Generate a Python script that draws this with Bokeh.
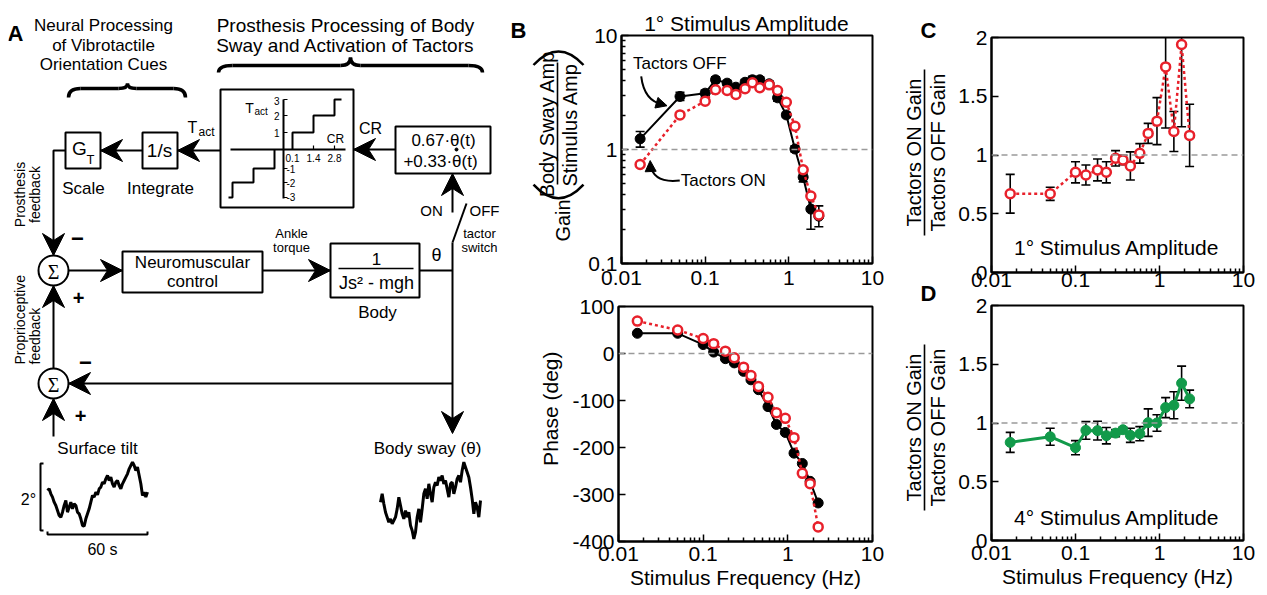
import math
from bokeh.plotting import figure
from bokeh.models import Range1d, FixedTicker, Span, Label, CustomJSTickFormatter, Arrow, NormalHead, Spacer
from bokeh.layouts import row, column
from bokeh.embed import file_html
from bokeh.resources import INLINE

FONT = "Liberation Sans"

# ---------------- data ----------------
freq = [0.0167, 0.05, 0.1, 0.133, 0.183, 0.233, 0.3, 0.367, 0.45, 0.583, 0.733, 0.933, 1.183, 1.483, 1.833, 2.283]

gain_off = [1.24, 2.92, 3.12, 4.09, 3.82, 3.52, 3.89, 4.09, 4.09, 3.77, 2.84, 2.01, 1.01, 0.572, 0.30, 0.26]
gain_off_lo = [1.05, 2.69, 2.88, 3.85, 3.62, 3.34, 3.68, 3.82, 3.85, 3.58, 2.65, 1.91, 0.95, 0.52, 0.20, 0.21]
gain_off_hi = [1.44, 3.18, 3.32, 4.35, 4.02, 3.70, 4.10, 4.38, 4.35, 3.97, 3.05, 2.12, 1.08, 0.62, 0.38, 0.32]
gain_on = [0.738, 2.01, 2.65, 3.34, 3.29, 3.04, 3.41, 3.85, 3.48, 3.69, 3.29, 2.60, 1.60, 0.664, 0.39, 0.267]

phase_off = [43, 43, 19, 3, -11, -20, -38, -56, -77, -113, -151, -168, -212, -234, -272, -318]
phase_on = [69, 50, 32, 21, 5, -9, -29, -47, -70, -93, -126, -138, -179, -255, -277, -369]

ratio_1deg = [0.67, 0.67, 0.853, 0.83, 0.873, 0.853, 0.972, 0.958, 0.907, 1.014, 1.184, 1.288, 1.75, 1.20, 1.94, 1.167]
ratio_1deg_err = [0.165, 0.056, 0.09, 0.085, 0.093, 0.09, 0.065, 0.04, 0.12, 0.083, 0.085, 0.20, 0.52, 0.17, 0.70, 0.265]
ratio_4deg = [0.835, 0.883, 0.79, 0.937, 0.935, 0.892, 0.914, 0.943, 0.895, 0.909, 1.003, 1.0, 1.131, 1.151, 1.339, 1.205]
ratio_4deg_err = [0.085, 0.072, 0.06, 0.075, 0.08, 0.07, 0.03, 0.02, 0.06, 0.06, 0.117, 0.07, 0.085, 0.115, 0.145, 0.075]

trace_time = list(range(61))  # seconds
tilt_deg = [1.17, 1.22, 1.07, 0.97, 0.82, 0.72, 0.57, 0.42, 0.37, 0.52, 0.72, 0.87, 0.52, 0.67, 0.82, 0.62,
            0.77, 0.72, 0.52, 0.47, 0.32, 0.12, 0.10, 0.32, 0.47, 0.62, 0.82, 1.02, 0.97, 1.12, 1.04, 1.22,
            1.27, 1.42, 1.37, 1.52, 1.62, 1.47, 1.57, 1.37, 1.27, 1.42, 1.47, 1.32, 1.22, 1.37, 1.47, 1.57,
            1.67, 1.82, 1.92, 2.02, 1.92, 1.77, 1.87, 1.62, 1.37, 1.02, 1.12, 0.97, 1.12]
sway_deg = [1.20, 1.45, 1.15, 0.90, 0.75, 0.60, 0.70, 0.55, 0.65, 0.75, 1.00, 1.35, 1.10, 0.85, 0.70, 0.95,
            0.75, 0.90, 0.50, 0.35, 0.10, 0.30, 0.75, 1.00, 0.60, 1.00, 1.45, 1.60, 1.30, 1.75, 1.45, 1.20,
            1.65, 1.80, 1.70, 1.95, 1.85, 2.00, 1.75, 1.85, 1.60, 1.35, 1.75, 1.80, 1.45, 1.65, 1.90, 2.00,
            1.80, 2.15, 2.40, 2.25, 2.10, 1.95, 1.65, 1.30, 0.85, 1.20, 1.05, 0.75, 1.25]

x_ticks = [0.01, 0.1, 1, 10]
x_minor = [m * 10.0 ** e for e in (-2, -1, 0) for m in range(2, 10)]
gain_ticks = [0.1, 1, 10]
gain_minor = [m * 10.0 ** e for e in (-1, 0) for m in range(2, 10)]
phase_ticks = [-400, -300, -200, -100, 0, 100]
ratio_ticks = [0, 0.5, 1, 1.5, 2]

RED = "#e8212b"
GREEN = "#129a4a"
GREY = "#9a9a9a"
VERT = math.pi / 2
TICK_FMT = "return tick.toString();"

# ---------------- helpers ----------------
def plot_fig(width, height, left, right, top, bottom, y_type, y_range, y_ticks, y_minor=None):
    p = figure(width=width, height=height, x_axis_type="log", y_axis_type=y_type,
               x_range=Range1d(0.01, 10), y_range=y_range,
               min_border_left=left, min_border_right=right, min_border_top=top, min_border_bottom=bottom,
               output_backend="svg", toolbar_location=None)
    p.grid.visible = False
    p.outline_line_color = "black"
    p.outline_line_width = 2
    p.outline_line_alpha = 1
    p.xaxis.ticker = FixedTicker(ticks=x_ticks, minor_ticks=x_minor)
    p.yaxis.ticker = FixedTicker(ticks=y_ticks, minor_ticks=y_minor or [])
    p.xaxis.formatter = CustomJSTickFormatter(code=TICK_FMT)
    p.yaxis.formatter = CustomJSTickFormatter(code=TICK_FMT)
    for ax in p.axis:
        ax.axis_line_width = 2
        ax.axis_line_color = "black"
        ax.major_tick_in = 7
        ax.major_tick_out = 0
        ax.minor_tick_in = 4
        ax.minor_tick_out = 0
        ax.major_tick_line_width = 1.5
        ax.minor_tick_line_width = 1.5
        ax.major_label_text_font = FONT
        ax.major_label_text_font_size = "21px"
        ax.major_label_text_color = "black"
        ax.axis_label_text_font = FONT
        ax.axis_label_text_font_size = "21px"
        ax.axis_label_text_font_style = "normal"
        ax.axis_label_text_color = "black"
        ax.axis_label_standoff = 2
    p.xaxis.major_label_standoff = 8
    p.yaxis.major_label_standoff = 4
    return p


def text_fig(x0, x1, y0, y1):
    f = figure(width=x1 - x0, height=y1 - y0, x_range=Range1d(x0, x1), y_range=Range1d(y1, y0),
               x_axis_location=None, y_axis_location=None, min_border=0,
               output_backend="svg", toolbar_location=None)
    f.grid.visible = False
    f.outline_line_color = None
    return f


def put(f, x, y, text, size=17, angle=0, align="center", bold=False, font=FONT):
    f.add_layout(Label(x=x, y=y, text=text, angle=angle, text_align=align, text_baseline="middle",
                       text_font_size=f"{size}px", text_font=font,
                       text_font_style="bold" if bold else "normal", text_color="black"))


def error_bars(p, x, lo, hi, cap=9):
    p.segment(x0=x, y0=lo, x1=x, y1=hi, line_color="black", line_width=1.6)
    p.scatter(x=x + x, y=lo + hi, marker="dash", size=cap, line_color="black", line_width=1.6)


def ref_line(p, loc):
    p.add_layout(Span(location=loc, dimension="width", line_color=GREY, line_width=1.6, line_dash="6 4"))


# ---------------- panel A (diagram, page-pixel coordinates) ----------------
A = text_fig(8, 530, 8, 593)

boxes = [(65, 100, 132, 168), (142, 177, 132, 168), (220, 353, 89, 207), (395, 490, 126, 173),
         (122, 262, 251, 292), (330, 419, 243, 297)]
A.quad(left=[b[0] for b in boxes], right=[b[1] for b in boxes], top=[b[2] for b in boxes],
       bottom=[b[3] for b in boxes], fill_color=None, line_color="black", line_width=2)

wires = [
    [(100, 150), (142, 150)],
    [(177, 150), (220, 150)],
    [(353, 149), (395, 149)],
    [(65, 150), (53, 150), (53, 254)],
    [(68, 270), (122, 270)],
    [(262, 270), (330, 270)],
    [(419, 270), (452, 270)],
    [(452, 242), (452, 430)],
    [(452, 383), (68, 383)],
    [(53, 368), (53, 286)],
    [(53, 436), (53, 399)],
    [(452, 242), (466, 203)],
    [(452, 175), (452, 212)],
    # step-function plot
    [(230, 149), (345, 149)],
    [(283, 99), (283, 198)],
    [(292, 149), (292, 132), (313, 132), (313, 115), (334, 115), (334, 99), (341, 99)],
    [(274, 149), (274, 168), (253, 168), (253, 182), (232, 182), (232, 197), (228, 197)],
    # scale bars
    [(43, 463), (40, 463), (40, 530), (43, 530)],
    [(47, 531), (47, 534), (147, 534), (147, 531)],
]
A.multi_line(xs=[[p[0] for p in w] for w in wires], ys=[[p[1] for p in w] for w in wires],
             line_color="black", line_width=2)

ticks_small = [[(283, y), (287, y)] for y in (99, 115, 132, 168, 182, 197)] + \
              [[(x, 149), (x, 145)] for x in (313, 334)]
A.multi_line(xs=[[p[0] for p in w] for w in ticks_small], ys=[[p[1] for p in w] for w in ticks_small],
             line_color="black", line_width=1.2)

A.segment(x0=[338], y0=[268], x1=[413], y1=[268], line_color="black", line_width=1.5)


def head(tip, d, L=22, W=11, notch=7):
    tx, ty = tip
    dx, dy = {"left": (-1, 0), "right": (1, 0), "up": (0, -1), "down": (0, 1)}[d]
    bx, by = tx - dx * L, ty - dy * L
    px, py = -dy, dx
    return ([tx, bx + px * W, tx - dx * (L - notch), bx - px * W],
            [ty, by + py * W, ty - dy * (L - notch), by - py * W])


heads = [head((100, 150), "left"), head((177, 150), "left"), head((353, 149), "left"),
         head((53, 255), "down"), head((122, 270), "right"), head((330, 270), "right"),
         head((452, 173), "up"), head((452, 433), "down"), head((68, 383), "left"),
         head((53, 285), "up"), head((53, 398), "up")]
A.patches(xs=[h[0] for h in heads], ys=[h[1] for h in heads], fill_color="black", line_color="black", line_width=1)

brace_q = [
    (68, 97, 80, 88, 68, 88), (118, 88, 127, 83, 127, 88), (127, 83, 136, 88, 127, 88), (173, 88, 185, 97, 185, 88),
    (218, 72, 232, 65, 218, 65), (340, 65, 350, 57, 350, 65), (350, 57, 360, 65, 350, 65), (468, 65, 482, 72, 482, 65),
]
A.quadratic(x0=[b[0] for b in brace_q], y0=[b[1] for b in brace_q], x1=[b[2] for b in brace_q],
            y1=[b[3] for b in brace_q], cx=[b[4] for b in brace_q], cy=[b[5] for b in brace_q],
            line_color="black", line_width=3.5)
A.segment(x0=[80, 136, 232, 360], y0=[88, 88, 65, 65], x1=[118, 173, 340, 468], y1=[88, 88, 65, 65],
          line_color="black", line_width=3.5)

A.scatter(x=[53, 53], y=[270, 383], size=30, marker="circle", fill_color="white", line_color="black", line_width=2)
A.scatter(x=[456], y=[149], size=3, marker="circle", fill_color="black", line_color="black")

tilt = A.subplot(x_source=Range1d(0, 60), y_source=Range1d(0, 2),
                 x_target=Range1d(47, 147), y_target=Range1d(529, 462.3))
tilt.line(x=trace_time, y=tilt_deg, line_color="black", line_width=3)
sway = A.subplot(x_source=Range1d(0, 60), y_source=Range1d(0, 2),
                 x_target=Range1d(380, 480), y_target=Range1d(541.7, 475))
sway.line(x=trace_time, y=sway_deg, line_color="black", line_width=3)

a_texts = [
    ("A", 15, 33, 22, 0, "center", True, FONT),
    ("B", 518, 30, 22, 0, "center", True, FONT),
    ("Neural Processing", 103, 25, 17, 0, "center", False, FONT),
    ("of Vibrotactile", 103, 45, 17, 0, "center", False, FONT),
    ("Orientation Cues", 103, 64, 17, 0, "center", False, FONT),
    ("Prosthesis Processing of Body", 345, 25, 19, 0, "center", False, FONT),
    ("Sway and Activation of Tactors", 345, 45, 19, 0, "center", False, FONT),
    ("G", 79, 148, 19, 0, "center", False, FONT),
    ("T", 90, 159, 13, 0, "center", False, FONT),
    ("1/s", 159, 150, 19, 0, "center", False, FONT),
    ("Scale", 83, 188, 17, 0, "center", False, FONT),
    ("Integrate", 160, 188, 17, 0, "center", False, FONT),
    ("T", 192, 127, 16, 0, "center", False, FONT),
    ("act", 198, 131, 12, 0, "left", False, FONT),
    ("T", 249, 107, 14, 0, "center", False, FONT),
    ("act", 254, 111, 10, 0, "left", False, FONT),
    ("3", 279, 100, 10, 0, "right", False, FONT),
    ("2", 279, 115, 10, 0, "right", False, FONT),
    ("1", 279, 132, 10, 0, "right", False, FONT),
    ("-1", 286, 168, 10, 0, "left", False, FONT),
    ("-2", 286, 182, 10, 0, "left", False, FONT),
    ("-3", 286, 196, 10, 0, "left", False, FONT),
    ("0.1", 292, 157, 10, 0, "center", False, FONT),
    ("1.4", 313, 157, 10, 0, "center", False, FONT),
    ("2.8", 334, 157, 10, 0, "center", False, FONT),
    ("CR", 335, 138, 12, 0, "center", False, FONT),
    ("CR", 370, 128, 16, 0, "center", False, FONT),
    ("0.67\u00b7\u03b8(t)", 443, 140, 17, 0, "center", False, FONT),
    ("+0.33\u00b7\u03b8(t)", 440, 161, 17, 0, "center", False, FONT),
    ("ON", 431, 210, 15, 0, "center", False, FONT),
    ("OFF", 484, 210, 15, 0, "center", False, FONT),
    ("tactor", 479, 233, 13, 0, "center", False, FONT),
    ("switch", 479, 247, 13, 0, "center", False, FONT),
    ("Ankle", 291, 233, 13, 0, "center", False, FONT),
    ("torque", 291, 247, 13, 0, "center", False, FONT),
    ("Neuromuscular", 192, 262, 17, 0, "center", False, FONT),
    ("control", 192, 281, 17, 0, "center", False, FONT),
    ("1", 376, 258, 17, 0, "center", False, FONT),
    ("Js\u00b2 - mgh", 376, 282, 18, 0, "center", False, FONT),
    ("Body", 377, 312, 17, 0, "center", False, FONT),
    ("\u03b8", 436, 254, 18, 0, "center", False, FONT),
    ("\u03a3", 53, 271, 20, 0, "center", False, "Liberation Serif"),
    ("\u03a3", 53, 384, 20, 0, "center", False, "Liberation Serif"),
    ("\u2212", 77, 238, 22, 0, "center", True, FONT),
    ("+", 78, 297, 20, 0, "center", True, FONT),
    ("\u2212", 85, 362, 22, 0, "center", True, FONT),
    ("+", 80, 415, 20, 0, "center", True, FONT),
    ("Prosthesis", 19, 194, 14, VERT, "center", False, FONT),
    ("feedback", 34, 194, 14, VERT, "center", False, FONT),
    ("Proprioceptive", 19, 364, 14, VERT, "left", False, FONT),
    ("feedback", 34, 364, 14, VERT, "left", False, FONT),
    ("Surface tilt", 97, 448, 17, 0, "center", False, FONT),
    ("Body sway (\u03b8)", 427, 448, 17, 0, "center", False, FONT),
    ("2\u00b0", 28, 499, 16, 0, "center", False, FONT),
    ("60 s", 102, 549, 16, 0, "center", False, FONT),
]
for t, x, y, s, ang, al, bold, fnt in a_texts:
    put(A, x, y, t, s, ang, al, bold, fnt)

# ---------------- panel B: gain ----------------
GL = text_fig(530, 585, 8, 294)
put(GL, 562, 240, "Gain", 20, VERT)
GL.quadratic(x0=[533, 533], y0=[195, 45], x1=[583, 583], y1=[195, 45], cx=[558, 558], cy=[229, 11],
             line_color="black", line_width=2.5)
put(GL, 546, 119, "Body Sway Amp", 20, VERT)
GL.segment(x0=[557], y0=[42], x1=[557], y1=[195], line_color="black", line_width=1.6)
put(GL, 569, 120, "Stimulus Amp", 20, VERT)

G = plot_fig(299, 286, 33, 12, 27, 31, "log", Range1d(0.1, 10), gain_ticks, gain_minor)
G.xaxis.major_label_standoff = 7
G.title.text = "1\u00b0 Stimulus Amplitude"
G.title.align = "center"
G.title.text_font = FONT
G.title.text_font_size = "21px"
G.title.text_font_style = "normal"
G.title.text_color = "black"
G.title.standoff = 2
ref_line(G, 1)
error_bars(G, freq, gain_off_lo, gain_off_hi)
G.line(freq, gain_off, line_color="black", line_width=2)
G.scatter(freq, gain_off, size=10, fill_color="black", line_color="black")
G.line(freq, gain_on, line_color=RED, line_width=2.5, line_dash="3 3")
G.scatter(freq, gain_on, size=9, fill_color="white", line_color=RED, line_width=2.5)
G.quadratic(x0=[0.0172], y0=[4.37], x1=[0.0313], y1=[2.48], cx=[0.0187], cy=[2.64], line_color="black", line_width=2)
G.add_layout(Arrow(end=NormalHead(size=11, fill_color="black", line_color="black"),
                   x_start=0.0300, y_start=2.50, x_end=0.0350, y_end=2.42, line_width=2))
G.quadratic(x0=[0.0497], y0=[0.535], x1=[0.0221], y1=[0.74], cx=[0.0239], cy=[0.503], line_color="black", line_width=2)
G.add_layout(Arrow(end=NormalHead(size=11, fill_color="black", line_color="black"),
                   x_start=0.02215, y_start=0.72, x_end=0.0220, y_end=0.80, line_width=2))
G.add_layout(Label(x=0.0498, y=5.7, text="Tactors OFF", text_align="center", text_baseline="middle",
                   text_font=FONT, text_font_size="17px", text_color="black"))
G.add_layout(Label(x=0.165, y=0.535, text="Tactors ON", text_align="center", text_baseline="middle",
                   text_font=FONT, text_font_size="17px", text_color="black"))

# ---------------- panel B: phase ----------------
PL = text_fig(530, 566, 294, 593)
put(PL, 550, 424, "Phase (deg)", 21, VERT)

P = plot_fig(318, 299, 52, 12, 12, 52, "linear", Range1d(-400, 100), phase_ticks)
P.xaxis.major_label_standoff = 5
P.xaxis.axis_label = "Stimulus Frequency (Hz)"
ref_line(P, 0)
P.line(freq, phase_off, line_color="black", line_width=2)
P.scatter(freq, phase_off, size=10, fill_color="black", line_color="black")
P.line(freq, phase_on, line_color=RED, line_width=2.5, line_dash="3 3")
P.scatter(freq, phase_on, size=9, fill_color="white", line_color=RED, line_width=2.5)

# ---------------- panels C and D ----------------
CDL = text_fig(884, 955, 8, 593)
put(CDL, 928, 30, "C", 22, bold=True)
put(CDL, 928, 293, "D", 22, bold=True)
for yc in (152, 427):
    put(CDL, 913, yc, "Tactors ON Gain", 20, VERT)
    CDL.segment(x0=[924], y0=[yc - 83], x1=[924], y1=[yc + 83], line_color="black", line_width=1.6)
    put(CDL, 937, yc, "Tactors OFF Gain", 20, VERT)

C = plot_fig(304, 287, 33, 16, 29, 23, "linear", Range1d(0, 2), ratio_ticks)
C.xaxis.major_label_standoff = 0
ref_line(C, 1)
error_bars(C, freq, [v - e for v, e in zip(ratio_1deg, ratio_1deg_err)],
           [v + e for v, e in zip(ratio_1deg, ratio_1deg_err)])
C.line(freq, ratio_1deg, line_color=RED, line_width=2.5, line_dash="3 3")
C.scatter(freq, ratio_1deg, size=9, fill_color="white", line_color=RED, line_width=2.5)
C.add_layout(Label(x=0.31, y=0.21, text="1\u00b0 Stimulus Amplitude", text_align="center", text_baseline="middle",
                   text_font=FONT, text_font_size="21px", text_color="black"))

D = plot_fig(304, 298, 33, 16, 10, 53, "linear", Range1d(0, 2), ratio_ticks)
D.xaxis.major_label_standoff = 5
D.xaxis.axis_label = "Stimulus Frequency (Hz)"
ref_line(D, 1)
error_bars(D, freq, [v - e for v, e in zip(ratio_4deg, ratio_4deg_err)],
           [v + e for v, e in zip(ratio_4deg, ratio_4deg_err)])
D.line(freq, ratio_4deg, line_color=GREEN, line_width=3)
D.scatter(freq, ratio_4deg, size=10, fill_color=GREEN, line_color=GREEN)
D.add_layout(Label(x=0.31, y=0.2, text="4\u00b0 Stimulus Amplitude", text_align="center", text_baseline="middle",
                   text_font=FONT, text_font_size="21px", text_color="black"))

layout = column(
    Spacer(width=10, height=8),
    row(Spacer(width=8, height=10), A,
        column(row(GL, G), row(PL, P)),
        CDL, column(C, D)),
)
open("out.html", "w").write(file_html(layout, INLINE))
